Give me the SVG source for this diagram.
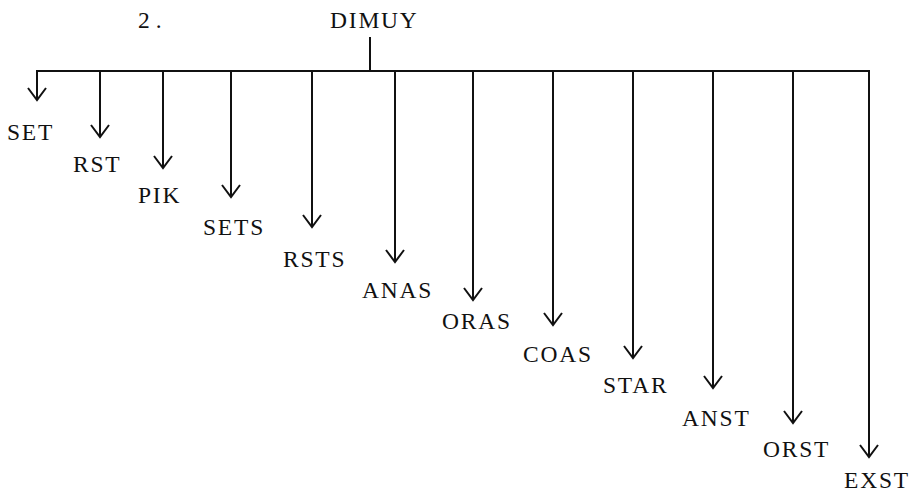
<svg xmlns="http://www.w3.org/2000/svg" width="912" height="496" viewBox="0 0 912 496">
<style>
text{font-family:"Liberation Serif","DejaVu Serif",serif;font-size:23.5px;letter-spacing:1.8px;fill:#111}
.c{stroke:#111;stroke-width:2;fill:none}
</style>
<defs>
<marker id="ah" markerUnits="userSpaceOnUse" markerWidth="18" markerHeight="24" refX="15" refY="12" orient="auto" viewBox="0 0 18 24">
<path d="M3,3 L15,12 L3,21" fill="none" stroke="#111" stroke-width="2"/>
</marker>
</defs>
<rect width="912" height="496" fill="#fff"/>
<g id="title"><text x="138" y="28" style="letter-spacing:6px">2.</text></g>
<g id="DIMUY"><text x="330" y="28">DIMUY</text></g>
<g id="connectors" class="c">
<line x1="370" y1="37" x2="370" y2="71"/>
<line x1="36" y1="71" x2="870" y2="71"/>
<g marker-end="url(#ah)">
<line x1="37" y1="71" x2="37" y2="100"/>
<line x1="100" y1="71" x2="100" y2="137"/>
<line x1="163" y1="71" x2="163" y2="168"/>
<line x1="231" y1="71" x2="231" y2="197"/>
<line x1="312" y1="71" x2="312" y2="227"/>
<line x1="395" y1="71" x2="395" y2="262"/>
<line x1="473" y1="71" x2="473" y2="300"/>
<line x1="553" y1="71" x2="553" y2="325"/>
<line x1="633" y1="71" x2="633" y2="358"/>
<line x1="713" y1="71" x2="713" y2="388"/>
<line x1="793" y1="71" x2="793" y2="423"/>
<line x1="869" y1="71" x2="869" y2="457"/>
</g>
</g>
<g id="SET"><text x="7" y="140">SET</text></g>
<g id="RST"><text x="73" y="172">RST</text></g>
<g id="PIK"><text x="138" y="203">PIK</text></g>
<g id="SETS"><text x="203" y="235">SETS</text></g>
<g id="RSTS"><text x="283" y="267">RSTS</text></g>
<g id="ANAS"><text x="362" y="298">ANAS</text></g>
<g id="ORAS"><text x="442" y="329">ORAS</text></g>
<g id="COAS"><text x="523" y="362">COAS</text></g>
<g id="STAR"><text x="603" y="393">STAR</text></g>
<g id="ANST"><text x="682" y="426">ANST</text></g>
<g id="ORST"><text x="763" y="457">ORST</text></g>
<g id="EXST"><text x="844" y="488">EXST</text></g>
</svg>
